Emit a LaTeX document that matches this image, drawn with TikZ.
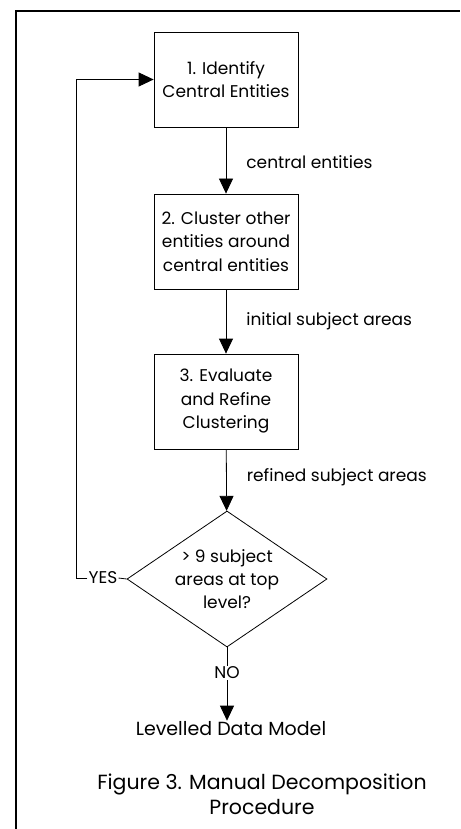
\documentclass[tikz,border=0pt]{standalone}
\usepackage{fontspec}
\setmainfont{Poppins}
\usetikzlibrary{shapes.geometric,arrows.meta}

\begin{document}
\begin{tikzpicture}[x=1pt,y=-1pt,
  stepbox/.style={draw, line width=0.8pt, minimum width=144pt, minimum height=95pt,
    inner sep=1pt, align=center, font=\fontsize{17}{23.5}\selectfont},
  decision/.style={draw, diamond, line width=0.8pt, minimum width=200pt, minimum height=136pt,
    aspect=1.47, inner sep=0pt, align=center, font=\fontsize{17}{23}\selectfont},
  flowlabel/.style={font=\fontsize{17}{20}\selectfont, inner sep=1pt},
  flow/.style={line width=0.8pt, -{Triangle[length=15pt,width=14pt]}}]
  \useasboundingbox (0,0) rectangle (460,829);

  % page frame
  \draw[line width=2pt] (16,829) -- (16,11) -- (460,11);

  % steps
  \node[stepbox] (identify) at (226,79.5) {1. Identify\\Central Entities};
  \node[stepbox] (cluster) at (226,241.5) {2. Cluster other\\entities around\\central entities};
  \node[stepbox] (refine) at (226,401.5) {3. Evaluate\\and Refine\\Clustering};
  \node[decision] (check) at (227,579) {> 9 subject\\areas at top\\level?};

  \node[flowlabel] (yes) at (103,578) {YES};
  \node[flowlabel] (no) at (227,673) {NO};
  \node[flowlabel, font=\fontsize{19}{24}\selectfont] (model) at (231,729) {Levelled Data Model};
  \coordinate (back) at (76,578);

  \draw[flow] (identify) -- node[flowlabel, anchor=west, xshift=19pt, yshift=-2pt] {central entities} (cluster);
  \draw[flow] (cluster) -- node[flowlabel, anchor=west, xshift=19pt] {initial subject areas} (refine);
  \draw[flow] (refine) -- node[flowlabel, anchor=west, xshift=19pt, yshift=3pt] {refined subject areas} (check);

  \draw[line width=0.8pt] (check.west) -- (yes.east);
  \draw[flow] (yes.west) -- (back) |- (identify.west);
  \draw[line width=0.8pt] (check.south) -- (no.north);
  \draw[flow] (no.south) -- (no.south |- model.north);

  % caption
  \node[font=\fontsize{20.5}{25}\selectfont, align=center] (caption) at (262,794)
    {Figure 3. Manual Decomposition\\Procedure};
\end{tikzpicture}
\end{document}
